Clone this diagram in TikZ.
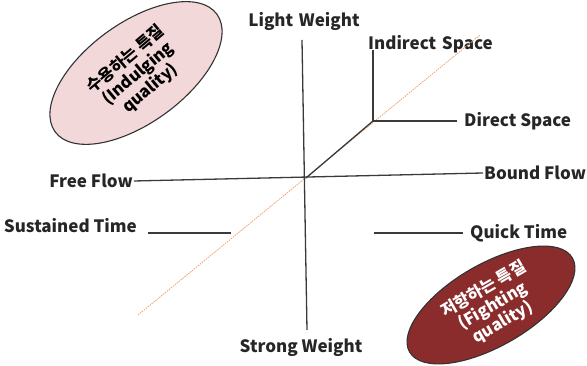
\documentclass[tikz,border=0pt]{standalone}
\usepackage{fontspec}
\setmainfont{Noto Sans CJK KR}
\usetikzlibrary{shapes.geometric}
\definecolor{axisgray}{HTML}{3A3A3A}
\definecolor{dashorange}{HTML}{F2A06E}
\definecolor{pinkfill}{HTML}{F3D8DA}
\definecolor{redfill}{HTML}{8B2C2C}
\begin{document}
\begin{tikzpicture}[x=1pt,y=1pt,
  lbl/.style={font=\bfseries\fontsize{17}{18}\selectfont, inner sep=1pt, text=black!85},
  axis/.style={draw=axisgray, line width=1.3pt},
  diag/.style={draw=dashorange, line width=0.8pt, dash pattern=on 1.5pt off 1pt},
  blob/.style={ellipse, draw=black!80, line width=1.1pt},
  blobtxt/.style={font=\bfseries\fontsize{16.5}{19}\selectfont, align=center}]
\useasboundingbox (0,0) rectangle (587,366);
% coordinates (pixel based, y flipped)
\coordinate (c) at (306,188);
\coordinate (vt) at (302,326);
\coordinate (vb) at (307,36);
\coordinate (dl) at (138,51);
\coordinate (dr) at (480,331);
\coordinate (k) at (373,245);
\coordinate (kt) at (373,316);
\coordinate (kr) at (457,245);
\coordinate (st1) at (148,133);
\coordinate (st2) at (231,133);
\coordinate (qt1) at (374,133);
\coordinate (qt2) at (463,133);
% labels
\node[lbl] (lw) at (304,345) {Light\,\,Weight};
\node[lbl] (sw) at (301,19) {Strong Weight};
\node[lbl, anchor=west] (is) at (367,322) {Indirect\,\,Space};
\node[lbl, anchor=west] (ds) at (463,245) {Direct Space};
\node[lbl, anchor=west] (bf) at (483,193) {Bound Flow};
\node[lbl, anchor=east] (ff) at (134,185) {Free Flow};
\node[lbl, anchor=east] (sti) at (138,140) {Sustained Time};
\node[lbl, anchor=west] (qti) at (469,133) {Quick Time};
% lines
\draw[diag] (dl) -- (dr);
\draw[axis] (vt) -- (vb);
\draw[axis] (ff.east) -- (bf.west);
\draw[axis] (c) -- (k);
\draw[axis] (k) -- (kt);
\draw[axis] (k) -- (kr);
\draw[axis] (st1) -- (st2);
\draw[axis] (qt1) -- (qt2);
% ellipses
\node[blob, fill=pinkfill, minimum width=200pt, minimum height=100pt, rotate=36] (e1) at (136,293) {};
\node[blobtxt, rotate=40] (t1) at (138,292) {수용하는 특질\\(Indulging\\quality)};
\node[blob, fill=redfill, minimum width=188pt, minimum height=82pt, rotate=30] (e2) at (491,61) {};
\node[blobtxt, text=white, rotate=30] (t2) at (493,60) {저항하는 특질\\(Fighting\\quality)};
\end{tikzpicture}
\end{document}
